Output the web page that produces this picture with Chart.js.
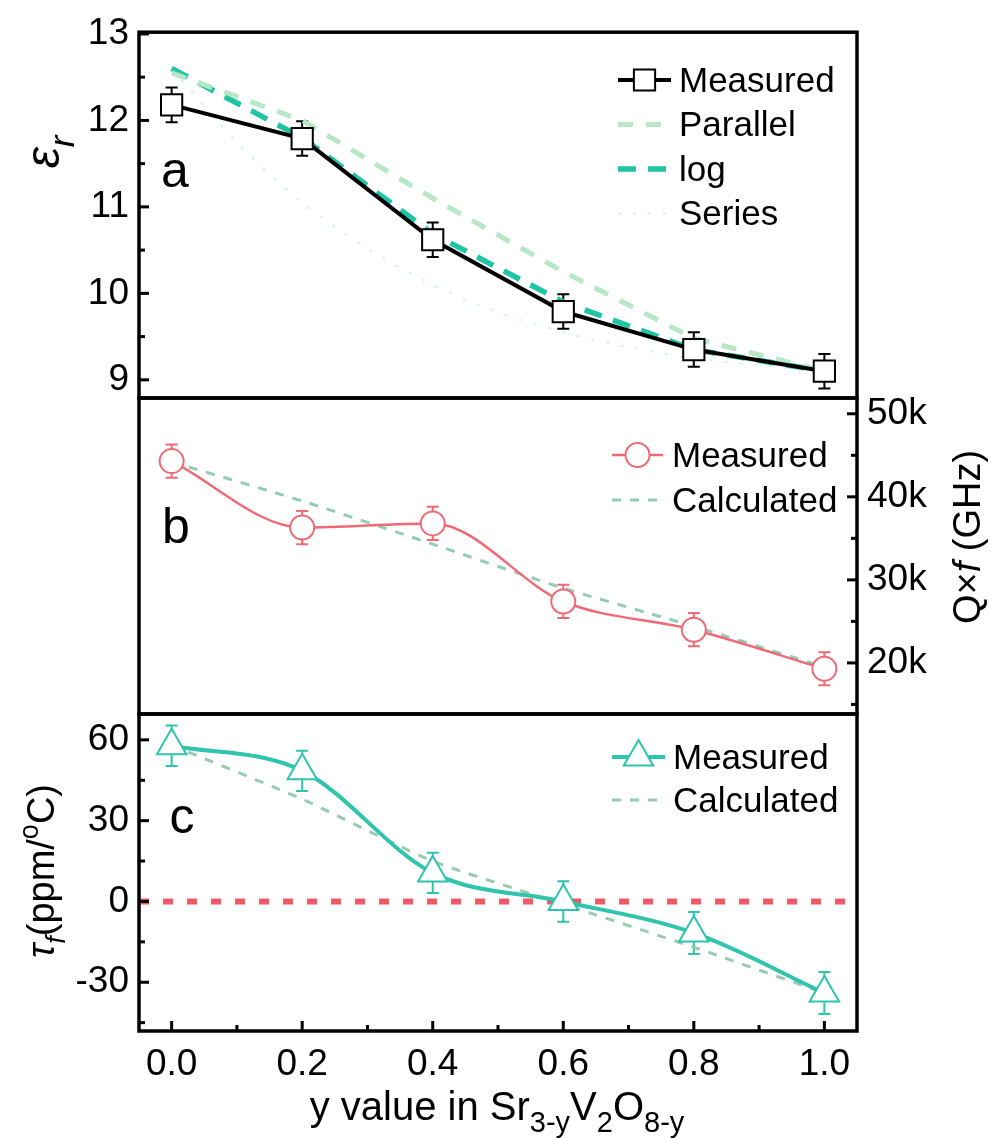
<!DOCTYPE html>
<html>
<head>
<meta charset="utf-8">
<script src="https://cdn.jsdelivr.net/npm/chart.js@4.4.1/dist/chart.umd.min.js"></script>
<style>
  html, body { margin: 0; padding: 0; background: #fff; }
  #wrap { position: relative; width: 991px; height: 1138px; }
  #wrap canvas { position: absolute; left: 0; top: 0; }
</style>
</head>
<body>
<div id="wrap">
  <canvas id="panelA" width="991" height="1138"></canvas>
  <canvas id="panelB" width="991" height="1138"></canvas>
  <canvas id="panelC" width="991" height="1138"></canvas>
</div>
<script>
// y value in Sr(3-y)V2O(8-y)
const yValues = [0.0, 0.2, 0.4, 0.6, 0.8, 1.0];
const xTicks = [0.0, 0.2, 0.4, 0.6, 0.8, 1.0];

// panel a: permittivity
const epsTicks = [9, 10, 11, 12, 13];
const epsMeasured = [12.18, 11.79, 10.62, 9.79, 9.35, 9.1];
const epsErr = [0.2, 0.2, 0.2, 0.2, 0.2, 0.2];
const epsParallel = [12.55, 12.0, 11.1, 10.25, 9.48, 9.1];
const epsLog = [12.6, 11.8, 10.69, 9.9, 9.35, 9.1];
const seriesX = [0.0, 0.1, 0.2, 0.3, 0.4, 0.5, 0.6, 0.7, 0.8, 0.9, 1.0];
const epsSeries = [12.6, 11.75, 11.05, 10.52, 10.1, 9.78, 9.55, 9.38, 9.25, 9.17, 9.1];

// panel b: Q x f (GHz)
const qfTicks = [20000, 30000, 40000, 50000];
const qfMeasured = [44300, 36300, 36800, 27400, 24000, 19300];
const qfErr = [2000, 2000, 2000, 2000, 2000, 2000];
const qfCalculated = [44200, 39500, 34300, 29000, 24400, 19500];

// panel c: tau_f (ppm/oC)
const tfTicks = [-30, 0, 30, 60];
const tfMeasured = [57.8, 48.5, 10.6, 0, -11.7, -34];
const tfErr = [7.5, 7.5, 7.5, 7.5, 7.8, 7.8];
const tfCalculated = [58, 38, 15, -1, -17, -34];
const tfZero = 0;

const FONT = '"Liberation Sans", Arial, sans-serif';
Chart.defaults.font.family = FONT;
Chart.defaults.color = '#000';

function pts(xs, ys) {
  return xs.map((x, i) => ({ x: x, y: ys[i] }));
}

function minorsOf(majors, min, max) {
  const step = majors[1] - majors[0];
  const out = [];
  for (let v = majors[0] - step / 2; v <= max + 1e-9; v += step) {
    if (v >= min - 1e-9) out.push(v);
  }
  return out;
}

// text with sub/superscripts, centred at (cx, cy)
function drawRich(ctx, parts, cx, cy, size, angle) {
  const fontOf = s => {
    const small = s.includes('sub') || s.includes('sup');
    const it = s.includes('it') ? 'italic ' : '';
    return it + (small ? Math.round(size * 0.72) : size) + 'px ' + FONT;
  };
  ctx.save();
  ctx.translate(cx, cy);
  ctx.rotate(angle);
  ctx.fillStyle = '#000';
  ctx.textBaseline = 'alphabetic';
  ctx.textAlign = 'left';
  let total = 0;
  const widths = parts.map(([t, s]) => {
    ctx.font = fontOf(s);
    const w = ctx.measureText(t).width;
    total += w;
    return w;
  });
  let x = -total / 2;
  parts.forEach(([t, s], i) => {
    ctx.font = fontOf(s);
    let dy = size * 0.36;
    if (s.includes('sub')) dy += size * 0.3;
    if (s.includes('sup')) dy -= size * 0.42;
    ctx.fillText(t, x, dy);
    x += widths[i];
  });
  ctx.restore();
}

function marker(ctx, style, r, x, y) {
  if (Chart.helpers && Chart.helpers.drawPoint) {
    Chart.helpers.drawPoint(ctx, { pointStyle: style, radius: r, rotation: 0, borderWidth: ctx.lineWidth }, x, y);
    return;
  }
  ctx.beginPath();
  if (style === 'rect') {
    const s = r * Math.SQRT1_2;
    ctx.rect(x - s, y - s, 2 * s, 2 * s);
  } else if (style === 'triangle') {
    ctx.moveTo(x, y - r);
    ctx.lineTo(x + 0.866 * r, y + r / 2);
    ctx.lineTo(x - 0.866 * r, y + r / 2);
    ctx.closePath();
  } else {
    ctx.arc(x, y, r, 0, Math.PI * 2);
  }
  ctx.fill();
  ctx.stroke();
}

// frame, inward ticks, titles, panel letter
const framePlugin = {
  id: 'frame',
  afterDraw(chart, args, o) {
    const ctx = chart.ctx;
    const ca = chart.chartArea;
    ctx.save();
    ctx.strokeStyle = '#000';
    ctx.lineWidth = 3.5;
    ctx.strokeRect(ca.left, ca.top, ca.right - ca.left, ca.bottom - ca.top);

    const ys = chart.scales.y;
    const drawTicks = (scale, vals, len, edge) => {
      vals.forEach(v => {
        const p = scale.getPixelForValue(v);
        ctx.beginPath();
        if (edge === 'left') { ctx.moveTo(ca.left, p); ctx.lineTo(ca.left + len, p); }
        if (edge === 'right') { ctx.moveTo(ca.right, p); ctx.lineTo(ca.right - len, p); }
        if (edge === 'bottom') { ctx.moveTo(p, ca.bottom); ctx.lineTo(p, ca.bottom - len); }
        ctx.stroke();
      });
    };
    ctx.lineWidth = 3;
    drawTicks(ys, o.yTicks, 10, o.side);
    drawTicks(ys, minorsOf(o.yTicks, ys.min, ys.max), 6, o.side);
    if (o.xAxis) {
      const xs = chart.scales.x;
      drawTicks(xs, xTicks, 10, 'bottom');
      drawTicks(xs, minorsOf(xTicks, xs.min, xs.max), 6, 'bottom');
    }
    (o.titles || []).forEach(t => drawRich(ctx, t.parts, t.x, t.y, t.size, t.angle || 0));

    ctx.fillStyle = '#000';
    ctx.font = '50px ' + FONT;
    ctx.textAlign = 'center';
    ctx.textBaseline = 'alphabetic';
    ctx.fillText(o.letter.text, o.letter.x, o.letter.y);
    ctx.restore();
  }
};

// vertical error bars under the markers
const errorPlugin = {
  id: 'errors',
  beforeDatasetsDraw(chart) {
    const ctx = chart.ctx;
    chart.data.datasets.forEach((ds, i) => {
      if (!ds.errors) return;
      const meta = chart.getDatasetMeta(i);
      ctx.save();
      ctx.strokeStyle = ds.borderColor;
      ctx.lineWidth = 2;
      meta.data.forEach((pt, j) => {
        const v = ds.data[j].y;
        const e = ds.errors[j];
        const top = chart.scales.y.getPixelForValue(v + e);
        const bot = chart.scales.y.getPixelForValue(v - e);
        ctx.beginPath();
        ctx.moveTo(pt.x, top); ctx.lineTo(pt.x, bot);
        ctx.moveTo(pt.x - 6, top); ctx.lineTo(pt.x + 6, top);
        ctx.moveTo(pt.x - 6, bot); ctx.lineTo(pt.x + 6, bot);
        ctx.stroke();
      });
      ctx.restore();
    });
  }
};

// dashed reference line at tau_f = 0
const zeroPlugin = {
  id: 'zeroLine',
  beforeDatasetsDraw(chart, args, o) {
    if (!o.show) return;
    const ctx = chart.ctx;
    const ca = chart.chartArea;
    const p = chart.scales.y.getPixelForValue(tfZero);
    ctx.save();
    ctx.strokeStyle = '#f05a66';
    ctx.lineWidth = 6;
    ctx.setLineDash([10, 14]);
    ctx.beginPath();
    ctx.moveTo(ca.left, p); ctx.lineTo(ca.right, p);
    ctx.stroke();
    ctx.restore();
  }
};

// legend: line sample with marker in the middle
const legendPlugin = {
  id: 'boxLegend',
  afterDraw(chart, args, o) {
    const ctx = chart.ctx;
    let y = o.y;
    chart.data.datasets.forEach(ds => {
      ctx.save();
      ctx.strokeStyle = ds.borderColor;
      ctx.lineWidth = ds.borderWidth;
      ctx.setLineDash(ds.borderDash || []);
      ctx.beginPath();
      ctx.moveTo(o.x, y); ctx.lineTo(o.x + o.sample, y);
      ctx.stroke();
      ctx.setLineDash([]);
      if (ds.pointRadius > 0) {
        ctx.fillStyle = ds.pointBackgroundColor;
        ctx.strokeStyle = ds.borderColor;
        ctx.lineWidth = ds.pointBorderWidth;
        marker(ctx, ds.pointStyle, ds.pointRadius, o.x + o.sample / 2, y);
      }
      ctx.fillStyle = '#000';
      ctx.font = '35px ' + FONT;
      ctx.textAlign = 'left';
      ctx.textBaseline = 'middle';
      ctx.fillText(ds.label, o.x + o.sample + o.gap, y + 2);
      ctx.restore();
      y += o.rowH;
    });
  }
};

const tickFont = { size: 37, family: FONT };

function makePanel(id, p) {
  return new Chart(document.getElementById(id), {
    type: 'line',
    data: { datasets: p.datasets },
    plugins: [framePlugin, errorPlugin, zeroPlugin, legendPlugin],
    options: {
      responsive: false,
      animation: false,
      events: [],
      layout: { padding: p.padding },
      elements: { line: { fill: false } },
      scales: {
        x: {
          type: 'linear',
          min: -0.05,
          max: 1.05,
          display: !!p.xAxis,
          grid: { display: false, drawTicks: false },
          border: { display: false },
          afterBuildTicks: s => { s.ticks = xTicks.map(v => ({ value: v })); },
          afterFit: s => { s.height = p.xAxis ? 107 : 0; },
          ticks: { font: tickFont, padding: 12, maxRotation: 0, callback: v => v.toFixed(1) }
        },
        y: {
          type: 'linear',
          position: p.side,
          min: p.yMin,
          max: p.yMax,
          grid: { display: false, drawTicks: false },
          border: { display: false },
          afterBuildTicks: s => { s.ticks = p.yTicks.map(v => ({ value: v })); },
          afterFit: s => { s.width = p.side === 'left' ? 139 : 134; },
          ticks: { font: tickFont, padding: 10, callback: p.tickFmt }
        }
      },
      plugins: {
        legend: { display: false },
        tooltip: { enabled: false },
        frame: { yTicks: p.yTicks, side: p.side, xAxis: !!p.xAxis, titles: p.titles, letter: p.letter },
        zeroLine: { show: !!p.zero },
        boxLegend: p.legend
      }
    }
  });
}

// panel a
makePanel('panelA', {
  padding: { top: 26, bottom: 740, left: 0, right: 134 },
  side: 'left', yMin: 8.79, yMax: 13.02, yTicks: epsTicks,
  tickFmt: v => String(v),
  letter: { text: 'a', x: 175, y: 187 },
  legend: { x: 618, y: 80, sample: 53, gap: 8, rowH: 44.5 },
  titles: [{ parts: [['\u03b5', 'it'], ['r', 'it sub']], x: 42, y: 152, size: 48, angle: -Math.PI / 2 }],
  datasets: [
    { label: 'Measured', data: pts(yValues, epsMeasured), errors: epsErr,
      borderColor: '#000000', borderWidth: 4, tension: 0,
      pointStyle: 'rect', pointRadius: 15, pointBackgroundColor: '#ffffff', pointBorderColor: '#000000', pointBorderWidth: 2 },
    { label: 'Parallel', data: pts(yValues, epsParallel),
      borderColor: '#b7e7c4', borderWidth: 5, borderDash: [15, 13], pointRadius: 0, tension: 0 },
    { label: 'log', data: pts(yValues, epsLog),
      borderColor: '#1fc3a6', borderWidth: 5.5, borderDash: [18, 12], pointRadius: 0, tension: 0 },
    { label: 'Series', data: pts(seriesX, epsSeries),
      borderColor: '#d3f1ed', borderWidth: 2, borderDash: [3, 12], pointRadius: 0, tension: 0.3 }
  ]
});

// panel b
makePanel('panelB', {
  padding: { top: 398, bottom: 424, left: 139, right: 0 },
  side: 'right', yMin: 13850, yMax: 51900, yTicks: qfTicks,
  tickFmt: v => (v / 1000) + 'k',
  letter: { text: 'b', x: 176, y: 543 },
  legend: { x: 612, y: 455, sample: 51, gap: 9, rowH: 45 },
  titles: [{ parts: [['Q\u00d7', ''], ['f', 'it'], [' (GHz)', '']], x: 966, y: 537, size: 38, angle: -Math.PI / 2 }],
  datasets: [
    { label: 'Measured', data: pts(yValues, qfMeasured), errors: qfErr,
      borderColor: '#ef6a75', borderWidth: 2.5, cubicInterpolationMode: 'monotone',
      pointStyle: 'circle', pointRadius: 12, pointBackgroundColor: '#ffffff', pointBorderColor: '#ef6a75', pointBorderWidth: 2 },
    { label: 'Calculated', data: pts(yValues, qfCalculated),
      borderColor: '#92ccb3', borderWidth: 3, borderDash: [9, 9], pointRadius: 0, tension: 0.2 }
  ]
});

// panel c
makePanel('panelC', {
  padding: { top: 714, bottom: 0, left: 0, right: 134 },
  side: 'left', yMin: -48.1, yMax: 69.6, yTicks: tfTicks,
  tickFmt: v => String(v),
  xAxis: true, zero: true,
  letter: { text: 'c', x: 182, y: 833 },
  legend: { x: 612, y: 757, sample: 53, gap: 8, rowH: 43 },
  titles: [
    { parts: [['\u03c4', 'it'], ['f', 'it sub'], ['(ppm/', ''], ['o', 'sup'], ['C)', '']], x: 40, y: 871, size: 38, angle: -Math.PI / 2 },
    { parts: [['y value in Sr', ''], ['3-y', 'sub'], ['V', ''], ['2', 'sub'], ['O', ''], ['8-y', 'sub']], x: 497, y: 1106, size: 40, angle: 0 }
  ],
  datasets: [
    { label: 'Measured', data: pts(yValues, tfMeasured), errors: tfErr,
      borderColor: '#2fc4ac', borderWidth: 4, cubicInterpolationMode: 'monotone',
      pointStyle: 'triangle', pointRadius: 17, pointBackgroundColor: '#ffffff', pointBorderColor: '#2fc4ac', pointBorderWidth: 2 },
    { label: 'Calculated', data: pts(yValues, tfCalculated),
      borderColor: '#98ccb0', borderWidth: 3, borderDash: [9, 9], pointRadius: 0, tension: 0.2 }
  ]
});
</script>
</body>
</html>
